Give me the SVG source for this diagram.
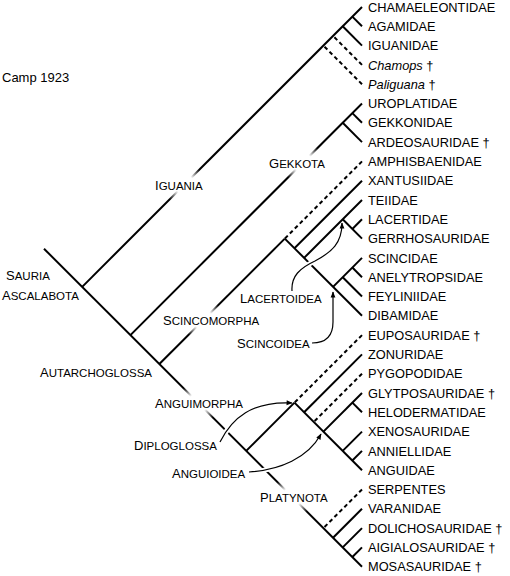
<svg xmlns="http://www.w3.org/2000/svg" width="510" height="576" viewBox="0 0 510 576">
<style>
.ln{stroke:#000;stroke-width:2;fill:none}
.ds{stroke:#000;stroke-width:2;fill:none;stroke-dasharray:4 3}
.ar{stroke:#000;stroke-width:1.2;fill:none;marker-end:url(#ah)}
.halo{stroke:#fff;stroke-width:5;fill:none}
text{font-family:"Liberation Sans",Arial,sans-serif;fill:#000}
.tip{font-size:12.8px}
.it{font-style:italic}
.cl{font-size:11.5px}
.cl .b{font-size:13px}
</style>
<defs>
<radialGradient id="fade"><stop offset="0.45" stop-color="#fff" stop-opacity="1"/><stop offset="1" stop-color="#fff" stop-opacity="0"/></radialGradient>
<marker id="ah" viewBox="0 0 10 10" refX="9" refY="5" markerWidth="7" markerHeight="6" orient="auto" markerUnits="userSpaceOnUse"><path d="M0,1 L10,5 L0,9 Z" fill="#000"/></marker>
</defs>
<rect width="510" height="576" fill="#fff"/>
<g id="connectors">
<path class="ln" d="M44,248.7 L362,566.7"/>
<path class="ln" d="M82.15,286.85 L362,7"/>
<path class="ln" d="M352.35,16.65 L362,26.3"/>
<path class="ln" d="M342.7,26.3 L362,45.6"/>
<path class="ds" d="M362,64.9 L333.05,35.95"/>
<path class="ds" d="M362,84.2 L323.4,45.6"/>
<path class="ln" d="M130.4,335.1 L362,103.5"/>
<path class="ln" d="M352.35,113.15 L362,122.8"/>
<path class="ln" d="M342.7,122.8 L362,142.1"/>
<path class="ln" d="M159.35,364.05 L284.8,238.6"/>
<path class="ds" d="M362,161.4 L284.8,238.6"/>
<path class="ln" d="M284.8,238.6 L362,315.8"/>
<path class="ln" d="M294.45,248.25 L362,180.7"/>
<path class="ln" d="M304.1,257.9 L362,200"/>
<path class="ln" d="M342.7,219.3 L362,238.6"/>
<path class="ln" d="M352.35,228.95 L362,219.3"/>
<path class="ln" d="M333.05,286.85 L362,257.9"/>
<path class="ln" d="M352.35,267.55 L362,277.2"/>
<path class="ln" d="M342.7,277.2 L362,296.5"/>
<path class="ln" d="M246.2,450.9 L294.45,402.65"/>
<path class="ds" d="M362,335.1 L294.45,402.65"/>
<path class="ln" d="M294.45,402.65 L362,470.2"/>
<path class="ln" d="M304.1,412.3 L362,354.4"/>
<path class="ds" d="M362,373.7 L313.75,421.95"/>
<path class="ln" d="M323.4,431.6 L362,393"/>
<path class="ln" d="M352.35,402.65 L362,412.3"/>
<path class="ln" d="M342.7,450.9 L362,431.6"/>
<path class="ln" d="M352.35,460.55 L362,450.9"/>
<path class="ds" d="M362,489.5 L323.4,528.1"/>
<path class="ln" d="M333.05,537.75 L362,508.8"/>
<path class="ln" d="M342.7,547.4 L362,528.1"/>
<path class="ln" d="M352.35,557.05 L362,547.4"/>
<circle cx="184.5" cy="184.5" r="21" fill="url(#fade)"/>
<circle cx="303" cy="163" r="21" fill="url(#fade)"/>
<circle cx="203.4" cy="320" r="21" fill="url(#fade)"/>
<circle cx="198" cy="403" r="21" fill="url(#fade)"/>
<circle cx="292" cy="497" r="21" fill="url(#fade)"/>
<path class="halo" pathLength="100" stroke-dasharray="0 8 80 100" d="M292,291 C291,276 300,268 315,261 C332,252 342,243 342,223"/>
<path class="halo" pathLength="100" stroke-dasharray="0 8 80 100" d="M220,442 C232,418 252,401 292,403"/>
<path class="halo" pathLength="100" stroke-dasharray="0 8 80 100" d="M249,472 C280,470 308,458 321,434"/>
<path class="ar" d="M292,291 C291,276 300,268 315,261 C332,252 342,243 342,223"/>
<path class="ar" d="M312,343 C326,343 333,336 333,322 L333,292"/>
<path class="ar" d="M220,442 C232,418 252,401 292,403"/>
<path class="ar" d="M249,472 C280,470 308,458 321,434"/>
</g>
<g id="title"><text x="2" y="82" font-size="13">Camp 1923</text></g>
<g id="tip-chamaeleontidae"><text class="tip" x="368" y="11.6">CHAMAELEONTIDAE</text></g>
<g id="tip-agamidae"><text class="tip" x="368" y="30.9">AGAMIDAE</text></g>
<g id="tip-iguanidae"><text class="tip" x="368" y="50.2">IGUANIDAE</text></g>
<g id="tip-chamops"><text class="tip" x="368" y="69.5"><tspan class="it">Chamops</tspan> †</text></g>
<g id="tip-paliguana"><text class="tip" x="368" y="88.8"><tspan class="it">Paliguana</tspan> †</text></g>
<g id="tip-uroplatidae"><text class="tip" x="368" y="108.1">UROPLATIDAE</text></g>
<g id="tip-gekkonidae"><text class="tip" x="368" y="127.4">GEKKONIDAE</text></g>
<g id="tip-ardeosauridae"><text class="tip" x="368" y="146.7">ARDEOSAURIDAE †</text></g>
<g id="tip-amphisbaenidae"><text class="tip" x="368" y="166">AMPHISBAENIDAE</text></g>
<g id="tip-xantusiidae"><text class="tip" x="368" y="185.3">XANTUSIIDAE</text></g>
<g id="tip-teiidae"><text class="tip" x="368" y="204.6">TEIIDAE</text></g>
<g id="tip-lacertidae"><text class="tip" x="368" y="223.9">LACERTIDAE</text></g>
<g id="tip-gerrhosauridae"><text class="tip" x="368" y="243.2">GERRHOSAURIDAE</text></g>
<g id="tip-scincidae"><text class="tip" x="368" y="262.5">SCINCIDAE</text></g>
<g id="tip-anelytropsidae"><text class="tip" x="368" y="281.8">ANELYTROPSIDAE</text></g>
<g id="tip-feyliniidae"><text class="tip" x="368" y="301.1">FEYLINIIDAE</text></g>
<g id="tip-dibamidae"><text class="tip" x="368" y="320.4">DIBAMIDAE</text></g>
<g id="tip-euposauridae"><text class="tip" x="368" y="339.7">EUPOSAURIDAE †</text></g>
<g id="tip-zonuridae"><text class="tip" x="368" y="359">ZONURIDAE</text></g>
<g id="tip-pygopodidae"><text class="tip" x="368" y="378.3">PYGOPODIDAE</text></g>
<g id="tip-glytposauridae"><text class="tip" x="368" y="397.6">GLYTPOSAURIDAE †</text></g>
<g id="tip-helodermatidae"><text class="tip" x="368" y="416.9">HELODERMATIDAE</text></g>
<g id="tip-xenosauridae"><text class="tip" x="368" y="436.2">XENOSAURIDAE</text></g>
<g id="tip-anniellidae"><text class="tip" x="368" y="455.5">ANNIELLIDAE</text></g>
<g id="tip-anguidae"><text class="tip" x="368" y="474.8">ANGUIDAE</text></g>
<g id="tip-serpentes"><text class="tip" x="368" y="494.1">SERPENTES</text></g>
<g id="tip-varanidae"><text class="tip" x="368" y="513.4">VARANIDAE</text></g>
<g id="tip-dolichosauridae"><text class="tip" x="368" y="532.7">DOLICHOSAURIDAE †</text></g>
<g id="tip-aigialosauridae"><text class="tip" x="368" y="552">AIGIALOSAURIDAE †</text></g>
<g id="tip-mosasauridae"><text class="tip" x="368" y="571.3">MOSASAURIDAE †</text></g>
<g id="clade-sauria"><text class="cl" x="6" y="280"><tspan class="b">S</tspan>AURIA</text></g>
<g id="clade-ascalabota"><text class="cl" x="2" y="300"><tspan class="b">A</tspan>SCALABOTA</text></g>
<g id="clade-iguania"><text class="cl" x="155" y="190"><tspan class="b">I</tspan>GUANIA</text></g>
<g id="clade-gekkota"><text class="cl" x="269" y="168"><tspan class="b">G</tspan>EKKOTA</text></g>
<g id="clade-scincomorpha"><text class="cl" x="163" y="325"><tspan class="b">S</tspan>CINCOMORPHA</text></g>
<g id="clade-autarchoglossa"><text class="cl" x="40" y="377"><tspan class="b">A</tspan>UTARCHOGLOSSA</text></g>
<g id="clade-lacertoidea"><text class="cl" x="240" y="303"><tspan class="b">L</tspan>ACERTOIDEA</text></g>
<g id="clade-scincoidea"><text class="cl" x="237" y="348"><tspan class="b">S</tspan>CINCOIDEA</text></g>
<g id="clade-anguimorpha"><text class="cl" x="155" y="408"><tspan class="b">A</tspan>NGUIMORPHA</text></g>
<g id="clade-diploglossa"><text class="cl" x="134" y="450"><tspan class="b">D</tspan>IPLOGLOSSA</text></g>
<g id="clade-anguioidea"><text class="cl" x="172" y="478"><tspan class="b">A</tspan>NGUIOIDEA</text></g>
<g id="clade-platynota"><text class="cl" x="260" y="502"><tspan class="b">P</tspan>LATYNOTA</text></g>
</svg>
